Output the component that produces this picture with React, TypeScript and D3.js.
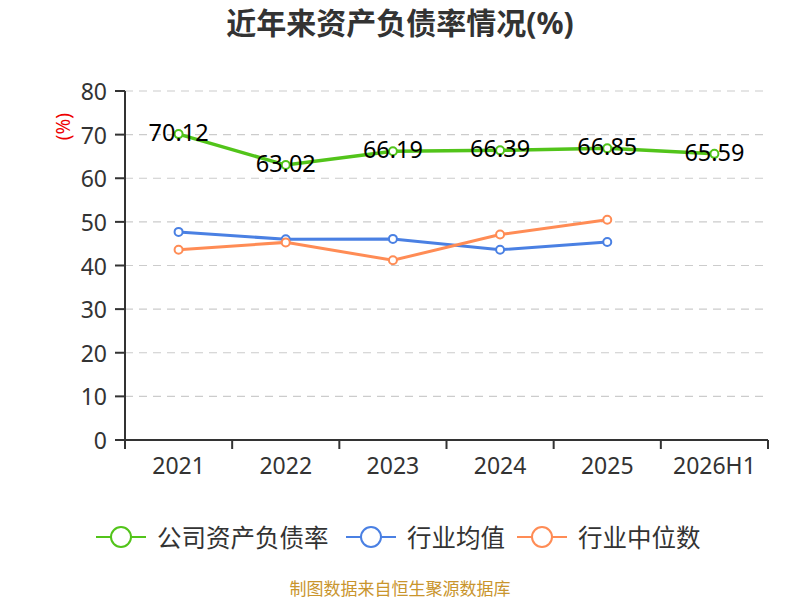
import * as d3 from "d3";

const categories = ["2021", "2022", "2023", "2024", "2025", "2026H1"];
const companyRatio = [70.12, 63.02, 66.19, 66.39, 66.85, 65.59];
const industryMean = [47.7, 46.0, 46.1, 43.6, 45.4];
const industryMedian = [43.6, 45.3, 41.2, 47.1, 50.5];
const yTicks = [0, 10, 20, 30, 40, 50, 60, 70, 80];

const seriesNames = ["公司资产负债率", "行业均值", "行业中位数"];
const seriesColors = ["#52c41a", "#4a80e3", "#ff8c55"];

const width = 800,
  height = 600,
  marginTop = 91,
  marginRight = 32,
  marginBottom = 160,
  marginLeft = 125;

const font = "'Noto Sans', 'Noto Sans CJK SC', sans-serif";

export default function App() {
  const x = d3
    .scaleBand<string>()
    .domain(categories)
    .range([marginLeft, width - marginRight]);
  const y = d3
    .scaleLinear()
    .domain([0, 80])
    .range([height - marginBottom, marginTop]);
  const cx = (i: number) => (x(categories[i]) ?? 0) + x.bandwidth() / 2;

  const line = d3
    .line<number>()
    .x((_, i) => cx(i))
    .y((d) => y(d));

  const allSeries = [companyRatio, industryMean, industryMedian];
  const legendX = [96, 346, 517];

  return (
    <svg
      width={width}
      height={height}
      style={{ position: "absolute", left: 0, top: 0, background: "#fff" }}
      fontFamily={font}
    >
      <text x={400} y={34} textAnchor="middle" fontSize={30} fontWeight="bold" fill="#333">
        近年来资产负债率情况(%)
      </text>

      {/* grid lines */}
      {yTicks.slice(1).map((t) => (
        <line
          key={t}
          x1={marginLeft}
          x2={width - marginRight}
          y1={y(t)}
          y2={y(t)}
          stroke="#ccc"
          strokeWidth={1.2}
          strokeDasharray="8,6"
        />
      ))}

      {/* y axis */}
      <line x1={marginLeft} x2={marginLeft} y1={y(80)} y2={y(0)} stroke="#333" strokeWidth={2} />
      {yTicks.map((t) => (
        <g key={t}>
          <line x1={marginLeft - 10} x2={marginLeft} y1={y(t)} y2={y(t)} stroke="#333" strokeWidth={2} />
          <text
            x={marginLeft - 18}
            y={y(t)}
            textAnchor="end"
            dominantBaseline="central"
            fontSize={23}
            fill="#333"
          >
            {t}
          </text>
        </g>
      ))}
      <text
        transform={`translate(63,${y(70) - 8}) rotate(-90)`}
        textAnchor="middle"
        dominantBaseline="central"
        fontSize={19}
        fill="#e00"
      >
        (%)
      </text>

      {/* x axis */}
      <line
        x1={marginLeft}
        x2={width - marginRight}
        y1={y(0)}
        y2={y(0)}
        stroke="#333"
        strokeWidth={2}
      />
      {categories.map((c, i) => (
        <g key={c}>
          <line
            x1={x(c) ?? 0}
            x2={x(c) ?? 0}
            y1={y(0)}
            y2={y(0) + 9}
            stroke="#333"
            strokeWidth={2}
          />
          <text x={cx(i)} y={y(0) + 34} textAnchor="middle" fontSize={23} fill="#333">
            {c}
          </text>
        </g>
      ))}
      <line
        x1={width - marginRight}
        x2={width - marginRight}
        y1={y(0)}
        y2={y(0) + 9}
        stroke="#333"
        strokeWidth={2}
      />

      {/* series */}
      {allSeries.map((s, si) => (
        <g key={si}>
          <path
            d={line(s) ?? ""}
            fill="none"
            stroke={seriesColors[si]}
            strokeWidth={si === 0 ? 3.5 : 3}
          />
          {s.map((v, i) => (
            <circle
              key={i}
              cx={cx(i)}
              cy={y(v)}
              r={4}
              fill="#fff"
              stroke={seriesColors[si]}
              strokeWidth={2}
            />
          ))}
        </g>
      ))}

      {/* labels */}
      {companyRatio.map((v, i) => (
        <text
          key={i}
          x={cx(i)}
          y={y(v) - 2}
          textAnchor="middle"
          dominantBaseline="central"
          fontSize={23.5}
          fill="#000"
        >
          {v.toFixed(2)}
        </text>
      ))}

      {/* legend */}
      {seriesNames.map((n, i) => (
        <g key={n}>
          <line
            x1={legendX[i]}
            x2={legendX[i] + 50}
            y1={537}
            y2={537}
            stroke={seriesColors[i]}
            strokeWidth={2}
          />
          <circle cx={legendX[i] + 25} cy={537} r={10} fill="#fff" stroke={seriesColors[i]} strokeWidth={2} />
          <text
            x={legendX[i] + 61}
            y={537}
            dominantBaseline="central"
            fontSize={24.5}
            fill="#333"
          >
            {n}
          </text>
        </g>
      ))}

      <text x={400} y={588} textAnchor="middle" dominantBaseline="central" fontSize={17} fill="#c9952d">
        制图数据来自恒生聚源数据库
      </text>
    </svg>
  );
}
